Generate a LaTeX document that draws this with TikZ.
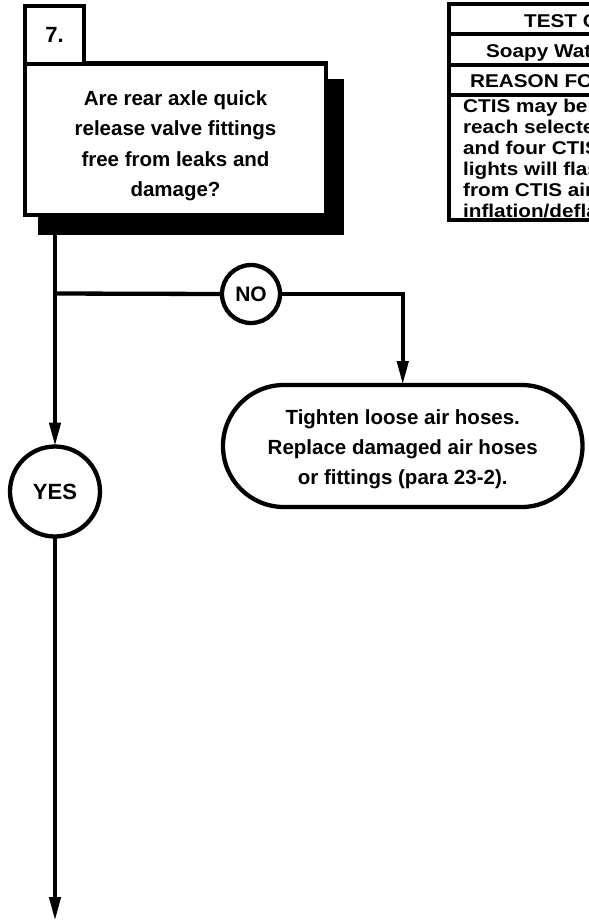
\documentclass[tikz,border=0pt]{standalone}
\usepackage{fontspec}
\usepackage{graphicx}
\setmainfont{Liberation Sans}
\newcommand{\wtx}[1]{\scalebox{1.12}[1]{#1}}
\usetikzlibrary{arrows.meta}
\begin{document}
\begin{tikzpicture}[x=1pt,y=-1pt,line width=4.3pt,
  arr/.style={-{Triangle[length=24pt,width=11pt]}},
  boxstyle/.style={draw,fill=white,rectangle,inner sep=0pt,outer sep=0pt},
  bigtxt/.style={font=\fontsize{20.5}{30.5}\selectfont\bfseries,align=center,inner sep=0pt},
  circ/.style={draw,circle,inner sep=0pt,outer sep=0pt},
  tbl/.style={font=\fontsize{18.5}{21}\selectfont\bfseries,inner sep=0pt,anchor=base west}]
\useasboundingbox (0,0) rectangle (589,922);
% shadow and question box
\fill (38,79) rectangle (344,235);
\node[boxstyle,minimum width=301pt,minimum height=151.5pt] (q7) at (175.5,139.25) {};
\node[bigtxt] (q7text) at (175.5,145.5) {Are rear axle quick\\release valve fittings\\free from leaks and\\damage?};
\node[boxstyle,minimum width=59pt,minimum height=58.5pt,font=\fontsize{22}{24}\selectfont\bfseries] (num) at (54.5,35) {7.};
% table (cut at the right edge)
\begin{scope}
\clip (0,0) rectangle (589,922);
\draw (449,4) rectangle (640,220);
\draw (449,34) -- (640,34);
\draw (449,65) -- (640,65);
\draw (449,95) -- (640,95);
\node[tbl] (h1) at (522,27.5) {\wtx{TEST C}};
\node[tbl] (h2) at (484,57.5) {\wtx{Soapy Wat}};
\node[tbl] (h3) at (468,87.5) {\wtx{REASON FO}};
\node[tbl] (b1) at (461,112.5) {\wtx{CTIS may be}};
\node[tbl] (b2) at (461,133.5) {\wtx{reach selecte}};
\node[tbl] (b3) at (461,154.5) {\wtx{and four CTIS}};
\node[tbl] (b4) at (461,175.5) {\wtx{lights will flas}};
\node[tbl] (b5) at (461,196.5) {\wtx{from CTIS air}};
\node[tbl] (b6) at (461,217) {\wtx{inflation/defla}};
\end{scope}
% circles and action box
\node[circ,minimum size=58pt,font=\fontsize{21}{24}\selectfont\bfseries] (no) at (251,294) {NO};
\node[circ,minimum size=90pt,font=\fontsize{22}{24}\selectfont\bfseries] (yes) at (55,491.5) {YES};
\node[draw,rectangle,rounded corners=60.9pt,minimum width=359.5pt,minimum height=122pt,inner sep=0pt,outer sep=0pt] (fix) at (402.75,446) {};
\node[bigtxt,font=\fontsize{20.5}{30}\selectfont\bfseries] (fixtext) at (402.75,449) {Tighten loose air hoses.\\Replace damaged air hoses\\or fittings (para 23-2).};
% connectors
\coordinate (s) at (55,235);
\coordinate (br) at (55,293.5);
\coordinate (end) at (55,921);
\draw (s) -- (br);
\draw[arr] (br) -- (yes.north);
\draw (br) -- (no.west);
\draw[arr] (no.east) -| (fix.north);
\draw[arr] (yes.south) -- (end);
\end{tikzpicture}
\end{document}
